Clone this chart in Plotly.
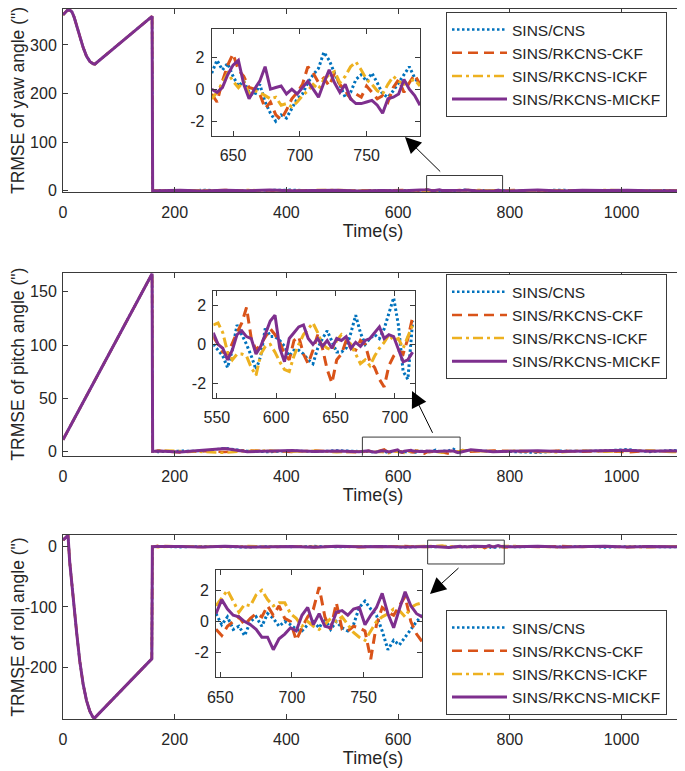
import numpy as np
import plotly.graph_objects as go

# ---------------- data ----------------
names = ["SINS/CNS", "SINS/RKCNS-CKF", "SINS/RKCNS-ICKF", "SINS/RKCNS-MICKF"]
colors = ["#0072BD", "#D95319", "#EDB120", "#7E2F8E"]
dashes = ["2.5px,2.5px", "10px,6px", "10px,4px,3px,4px", "solid"]

# initial (pre-convergence) segment, common to all filters
yaw_tr_t = [0, 4, 8, 12, 16, 20, 25, 30, 36, 42, 48, 54, 57, 159.5, 160.5]
yaw_tr_v = [362, 368, 371.5, 372, 368, 357, 338, 317, 295, 277, 266, 261, 260.5, 359, 0]
pitch_tr_t = [0, 159.5, 160.5]
pitch_tr_v = [11, 167, 0]
roll_tr_t = [0, 4, 9, 12, 15.5, 19.7, 24.5, 30, 36, 42, 48, 53, 56, 159, 160]
roll_tr_v = [11, 15, 19, -25, -60, -102, -143, -190, -228, -255, -273, -282, -285, -186, 0]

# coarse samples after convergence (t = 170, 210, ..., 1130 s)
coarse_t = np.arange(170, 1131, 40)
yaw_cns_c = [0.5, -0.8, 1.2, 0.3, -1.0, 0.8, 1.5, -0.4, 0.2, -1.2, 0.9, 0.4, -0.6, 1.1, -0.3, 0.7, -0.9, 0.2, 1.3, -0.5, 0.6, -1.1, 0.3, 0.8, -0.2]
yaw_ckf_c = [-0.6, 0.9, -0.3, 1.0, 0.4, -1.1, 0.2, 0.8, -0.7, 0.5, -0.2, 1.2, 0.3, -0.8, 0.6, -0.4, 1.0, -0.6, 0.1, 0.9, -1.0, 0.4, -0.3, 0.7, 0.2]
yaw_ickf_c = [0.8, -0.4, 0.6, -1.0, 1.1, 0.2, -0.6, 0.9, 1.4, -0.3, 0.5, -0.9, 0.7, 0.1, -0.5, 1.2, 0.3, -0.8, 0.6, -0.2, 1.0, 0.5, -0.7, 0.3, 0.9]
yaw_mickf_c = [-0.3, 0.4, -0.7, 0.6, -0.2, 0.9, -0.5, 0.1, 0.7, -0.9, 0.3, -0.4, 0.8, -0.6, 0.2, 0.5, -0.3, 0.9, -0.7, 0.4, -0.1, 0.6, -0.5, 0.2, -0.4]

pitch_cns_c = [-0.5, 0.6, 0.3, 3.2, 0.4, -0.6, 0.8, -0.3, 1.0, 0.2, -0.8, 0.5, 0.3, -1.0, 0.9, 0.4, -0.5, -1.2, 0.6, 0.2, 0.8, 2.0, -0.4, 1.1, 0.3]
pitch_ckf_c = [0.6, -0.9, 0.2, -0.6, 1.0, 0.3, -0.5, 0.8, -0.2, -0.9, 0.5, 0.1, -1.0, 0.6, -0.3, 0.9, 0.2, -0.6, 1.0, -0.4, 0.3, -0.8, 0.6, -0.2, 0.4]
pitch_ickf_c = [1.2, 0.3, -0.7, -1.3, 0.5, 0.9, -0.2, 0.6, -0.8, 0.4, 1.1, -0.5, 0.2, -0.6, 0.8, -0.3, 0.7, 0.1, -0.9, 0.9, -0.4, 0.5, 1.0, -0.6, 0.2]
pitch_mickf_c = [0.3, -0.5, 0.8, 2.8, -0.2, 0.5, 0.9, 0.0, 0.4, -0.3, 0.6, 0.2, -0.4, 0.3, 1.5, -0.2, 0.4, 0.7, -0.1, 0.5, 0.9, 1.2, 0.2, 0.6, -0.3]

roll_cns_c = [0.4, -0.7, 0.9, 0.2, -1.0, 0.6, -0.3, 1.1, -0.5, 0.3, 0.8, -0.9, 0.2, -0.4, 0.7, 1.0, -0.6, 0.3, -0.2, 0.9, -1.1, 0.5, 0.1, -0.7, 0.6]
roll_ckf_c = [1.5, 0.3, -0.6, 0.8, 0.2, -0.9, 1.0, -0.2, 0.5, -0.7, 0.3, 1.1, -0.4, 0.6, -1.0, 0.2, 0.8, -0.5, 1.2, -0.3, 0.4, -0.8, 0.9, 0.0, -0.6]
roll_ickf_c = [-0.8, 1.0, 0.4, -0.5, 1.2, 0.1, 0.7, -0.9, 0.3, 1.0, -0.4, 0.6, 0.9, -0.7, 0.2, -0.3, 1.1, 0.5, -0.8, 0.4, 0.7, -0.2, -0.9, 0.8, 0.3]
roll_mickf_c = [0.2, 0.6, -0.4, 0.9, -0.6, 0.3, 0.5, -0.8, 1.0, -0.2, 0.4, -0.5, 0.7, 0.2, -0.9, 0.6, -0.1, 0.8, -0.4, 0.3, 0.9, -0.6, 0.4, 0.1, -0.3]

# zoomed windows (every 4 s)
yaw_zt = np.arange(634, 791, 4)
yaw_cns_z = [1.0, 1.8, 1.2, 1.6, 0.8, 0.2, 0.5, -0.2, -0.4, 0.3, -0.8, -1.5, -2.0, -1.6, -1.8, -1.2, -0.6, -0.3, 0.4, 0.9,
             1.3, 2.3, 1.8, 1.0, 0.2, -0.5, -0.2, 0.6, 0.9, 0.5, 1.0, 0.4, -0.3, -0.5, -0.1, 0.4, 0.9, 1.4, 0.7, 0.3]
yaw_ckf_z = [-0.3, -0.8, 0.5, 1.5, 2.2, 1.2, 0.8, 0.1, 0.0, -0.3, -1.2, -0.8, -1.6, -1.9, -1.3, -0.6, -0.2, 0.3, 1.4, 1.0,
             0.4, 0.7, 0.2, 1.0, 0.3, -0.1, -0.6, -0.3, -0.5, 0.2, -0.2, -0.6, -0.4, -0.8, 0.1, 0.6, -0.2, 0.4, 0.9, 0.3]
yaw_ickf_z = [-0.6, -0.2, 0.4, 1.0, 0.5, 0.1, 0.5, -0.3, -0.1, -0.2, -0.4, -0.6, -0.5, -1.0, -0.9, -1.1, -0.8, -0.4, -0.1, 0.3,
              0.0, 0.6, 0.9, 1.1, 0.4, 0.8, 1.4, 1.7, 1.2, 0.6, 0.3, -0.1, -0.3, 0.3, 0.8, 0.5, 0.3, 0.5, 0.6, 0.2]
yaw_mickf_z = [0.0, -0.2, 0.1, 0.9, 1.5, 1.8, 0.3, -0.6, 0.0, 0.5, 1.4, 0.0, 0.1, 0.2, -0.3, 0.0, -0.3, 0.1, 0.5, 0.0,
               -0.5, 0.4, 1.2, 0.4, -0.2, 0.3, -0.6, -0.9, -0.9, -0.8, -0.7, -1.0, -1.5, -0.6, -0.5, -0.3, 0.6, 0.0, -0.4, -1.0]

pitch_zt = np.arange(547, 716, 4)
pitch_cns_z = [0.0, -0.3, -0.6, -1.2, -0.3, 1.0, 0.5, 0.0, -0.6, -1.3, -0.6, 0.9, 0.4, 0.4, 0.2, -0.1, -0.6, -0.3, -0.3, -0.5,
               -0.8, -1.0, -0.2, 0.3, 0.7, 0.1, -0.4, -0.4, -0.2, 0.6, 1.5, 0.6, 0.0, 0.3, 0.5, 0.3, 0.8, 1.6, 2.4, 1.0,
               -1.4, -1.8, 1.2]
pitch_ckf_z = [0.4, 0.0, -0.4, -0.5, 0.1, 0.6, 1.1, 1.9, 0.3, -0.3, 0.0, 0.4, 0.8, 0.5, 0.1, -0.5, -0.8, 0.2, 0.4, -0.5,
               -1.0, -0.3, 0.5, -0.2, -1.3, -2.0, -0.8, -0.5, 0.2, -0.2, -0.3, 0.2, 0.0, -0.9, -1.2, -1.8, -2.2, -1.1, -0.6, -0.3,
               -0.5, 0.3, 1.4]
pitch_ickf_z = [1.0, 1.1, 0.6, -0.4, -0.8, -0.5, -0.5, -0.6, -1.2, -1.6, -0.5, -0.1, 0.0, -0.4, -0.9, -1.3, -1.4, -0.6, 0.0, 0.5,
                0.8, 1.1, 0.6, 0.0, -0.2, -0.3, 0.2, 0.5, 0.3, 0.0, -0.5, -1.0, -0.8, -1.1, -0.6, -0.2, 0.1, 0.5, 0.2, 0.3,
                -0.2, 0.4, 1.0]
pitch_mickf_z = [0.6, 0.0, -0.2, -0.8, -0.3, 0.5, 0.7, 0.4, 0.3, -0.5, -0.1, 0.5, 1.2, 1.5, -0.2, -0.9, 0.3, 0.6, 0.9, 1.0,
                 0.3, 0.0, 0.3, -0.1, 0.2, -0.2, 0.3, 0.2, 0.4, -0.2, 0.1, -0.1, 0.2, 0.3, 0.6, 0.9, 0.3, 0.5, 0.4, -0.3,
                 -0.9, -0.8, -0.4]

roll_zt = np.arange(647, 792, 4)
roll_cns_z = [0.5, -0.2, 0.3, -0.5, -0.3, -0.9, 0.0, 0.3, -0.3, 0.5, 0.2, -0.3, 0.0, -0.2, -0.5, -0.6, -0.2, 0.0, -0.4, 0.2,
              -0.5, 0.0, -0.4, -0.6, -0.2, 0.9, 1.3, 0.8, 0.4, -0.6, -1.8, -1.2, -1.5, -1.0, -0.5, 0.0, 0.4]
roll_ckf_z = [-0.5, -0.9, -0.3, 0.0, 0.3, -0.2, 0.2, 0.5, 0.3, 1.0, 0.4, 1.0, 0.2, 0.0, -1.2, -0.4, 0.3, 0.8, 2.2, 0.3,
              -0.5, 1.2, -0.5, -0.6, -0.3, -0.4, -0.6, -2.4, -0.2, 0.9, 0.6, 0.4, 1.0, 1.6, 0.0, -0.8, -1.3]
roll_ickf_z = [1.0, 1.5, 2.0, 1.3, 0.6, 1.1, 1.0, 1.7, 2.0, 1.4, 1.0, 1.2, 1.2, 0.5, 0.2, -0.3, 0.0, -0.3, -0.5, -0.2,
               0.2, 0.0, 0.3, -0.2, -0.7, -1.0, -1.2, -0.6, 0.0, 0.3, 0.5, 0.8, 0.7, 0.3, 0.9, 1.1, 1.2]
roll_mickf_z = [0.5, 1.4, 0.8, 0.4, 0.3, 0.0, -0.2, -0.5, -1.0, -1.0, -1.8, -1.1, -0.8, -0.4, -0.6, 0.4, 0.9, -0.2, 0.5, -0.3,
                -0.4, 0.6, 0.7, 0.4, 0.8, 0.9, -0.2, 0.4, 0.9, 1.8, 0.5, -0.4, 0.8, 1.9, 1.0, 0.5, 0.3]

# ---------------- style / layout helpers ----------------
FONT = "Liberation Sans, Arial, sans-serif"
TXT = "#262626"
AX = "#3a3a3a"
OFF = 8                      # page body margin of the html page
W, H = 685 - OFF, 771 - OFF  # figure size so that it fills the window


def px(X):
    return (X - OFF) / W


def py(Y):
    return 1 - (Y - OFF) / H


def merge(ct, cv, zt, zv):
    ct = np.asarray(ct, float); cv = np.asarray(cv, float)
    zt = np.asarray(zt, float); zv = np.asarray(zv, float)
    keep = (ct < zt[0]) | (ct > zt[-1])
    t = np.concatenate([ct[keep], zt]); v = np.concatenate([cv[keep], zv])
    o = np.argsort(t)
    return t[o], v[o]


panels = [
    dict(tr_t=yaw_tr_t, tr_v=yaw_tr_v,
         coarse=[yaw_cns_c, yaw_ckf_c, yaw_ickf_c, yaw_mickf_c],
         zt=yaw_zt, zooms=[yaw_cns_z, yaw_ckf_z, yaw_ickf_z, yaw_mickf_z],
         ytitle='TRMSE of yaw angle (")', yrange=[-3, 374], yticks=[0, 100, 200, 300],
         box_y=(192, 9), ins_box=(211.7, 420, 135.7, 29), ins_xr=[634, 790], ins_yr=[-2.9, 3.75],
         ins_xt=[650, 700, 750],
         rect=[651, 787, -19, 31], head=(405, 137), tail=(441.7, 173), leg_c=64.5),
    dict(tr_t=pitch_tr_t, tr_v=pitch_tr_v,
         coarse=[pitch_cns_c, pitch_ckf_c, pitch_ickf_c, pitch_mickf_c],
         zt=pitch_zt, zooms=[pitch_cns_z, pitch_ckf_z, pitch_ickf_z, pitch_mickf_z],
         ytitle='TRMSE of pitch angle (")', yrange=[-4, 168], yticks=[0, 50, 100, 150],
         box_y=(455.7, 272.7), ins_box=(213.3, 415, 397.7, 291), ins_xr=[547, 717], ins_yr=[-2.75, 2.75],
         ins_xt=[550, 600, 650, 700],
         rect=[536, 711, -9.4, 13.5], head=(412, 391), tail=(433.3, 434.3), leg_c=326.7),
    dict(tr_t=roll_tr_t, tr_v=roll_tr_v,
         coarse=[roll_cns_c, roll_ckf_c, roll_ickf_c, roll_mickf_c],
         zt=roll_zt, zooms=[roll_cns_z, roll_ckf_z, roll_ickf_z, roll_mickf_z],
         ytitle='TRMSE of roll angle (")', yrange=[-286, 19.5], yticks=[-200, -100, 0],
         box_y=(719, 535), ins_box=(216, 422.3, 677.3, 570), ins_xr=[647, 791], ins_yr=[-3.56, 3.29],
         ins_xt=[650, 700, 750],
         rect=[652.8, 790, -28.6, 11], head=(430, 594), tail=(460, 566.7), leg_c=662.5),
]

fig = go.Figure()
layout = dict(width=W, height=H, margin=dict(l=0, r=0, t=0, b=0, autoexpand=False),
              plot_bgcolor="white", paper_bgcolor="white",
              font=dict(family=FONT, color=TXT, size=16), showlegend=True)
shapes, annots = [], []


def axstyle(**kw):
    d = dict(showline=True, linecolor=AX, linewidth=1, mirror="ticks", ticks="inside",
             ticklen=5, tickcolor=AX, tickwidth=1, showgrid=False, zeroline=False, automargin=False,
             tickfont=dict(family=FONT, size=16, color=TXT))
    d.update(kw)
    return d


def lab(v):
    return [("-" + str(abs(x))) if x < 0 else str(x) for x in v]


def sx(n):
    return "" if n == 1 else str(n)


for i, p in enumerate(panels):
    mx = my = 2 * i + 1
    ix = iy = 2 * i + 2
    legname = "legend" if i == 0 else "legend%d" % (i + 1)
    for k in range(4):
        t, v = merge(coarse_t, p["coarse"][k], p["zt"], p["zooms"][k])
        tt = np.concatenate([p["tr_t"], t]); vv = np.concatenate([p["tr_v"], v])
        fig.add_trace(go.Scatter(x=tt, y=vv, mode="lines", name=names[k],
                                 line=dict(color=colors[k], width=3 if k == 3 else 2.5, dash=dashes[k]),
                                 xaxis="x" + sx(mx), yaxis="y" + sx(my),
                                 legend=legname, showlegend=True))
    for k in range(4):
        fig.add_trace(go.Scatter(x=p["zt"], y=p["zooms"][k], mode="lines", name=names[k],
                                 line=dict(color=colors[k], width=3, dash=dashes[k]),
                                 xaxis="x" + sx(ix), yaxis="y" + sx(iy), showlegend=False))
    b0, b1 = p["box_y"]
    layout["xaxis" + sx(mx)] = axstyle(domain=[px(63), px(683)], range=[0, 1110],
                                        tickvals=[0, 200, 400, 600, 800, 1000],
                                        anchor="y" + sx(my), ticklabelstandoff=6,
                                        title=dict(text="Time(s)", font=dict(size=18, family=FONT, color=TXT), standoff=0))
    layout["yaxis" + sx(my)] = axstyle(domain=[py(b0), py(b1)], range=p["yrange"], tickvals=p["yticks"],
                                        ticktext=lab(p["yticks"]), anchor="x" + sx(mx), ticklabelstandoff=2,
                                        title=dict(text=p["ytitle"], font=dict(size=17.5, family=FONT, color=TXT), standoff=5))
    x0, x1, y0, y1 = p["ins_box"]
    layout["xaxis" + sx(ix)] = axstyle(domain=[px(x0), px(x1)], range=p["ins_xr"], tickvals=p["ins_xt"],
                                        anchor="y" + sx(iy), ticklabelstandoff=5)
    layout["yaxis" + sx(iy)] = axstyle(domain=[py(y0), py(y1)], range=p["ins_yr"], tickvals=[-2, 0, 2],
                                        ticktext=["-2", "0", "2"], anchor="x" + sx(ix), ticklabelstandoff=3)
    layout[legname] = dict(x=px(446), y=py(p["leg_c"]), xanchor="left", yanchor="middle",
                           bordercolor=AX, borderwidth=1, bgcolor="white", itemwidth=55,
                           font=dict(family=FONT, size=15.5, color=TXT), tracegroupgap=0)
    r = p["rect"]
    shapes.append(dict(type="rect", xref="x" + sx(mx), yref="y" + sx(my), x0=r[0], x1=r[1], y0=r[2], y1=r[3],
                       line=dict(color=AX, width=1), fillcolor="rgba(0,0,0,0)"))
    hx, hy = p["head"]; tx, ty = p["tail"]
    annots.append(dict(x=px(hx), y=py(hy), xref="paper", yref="paper", ax=tx - hx, ay=ty - hy,
                       axref="pixel", ayref="pixel", text="", showarrow=True, arrowhead=2, arrowsize=3.2,
                       arrowwidth=1, arrowcolor="#000000"))

layout["shapes"] = shapes
layout["annotations"] = annots
fig.update_layout(**layout)
fig.write_html("out.html")
